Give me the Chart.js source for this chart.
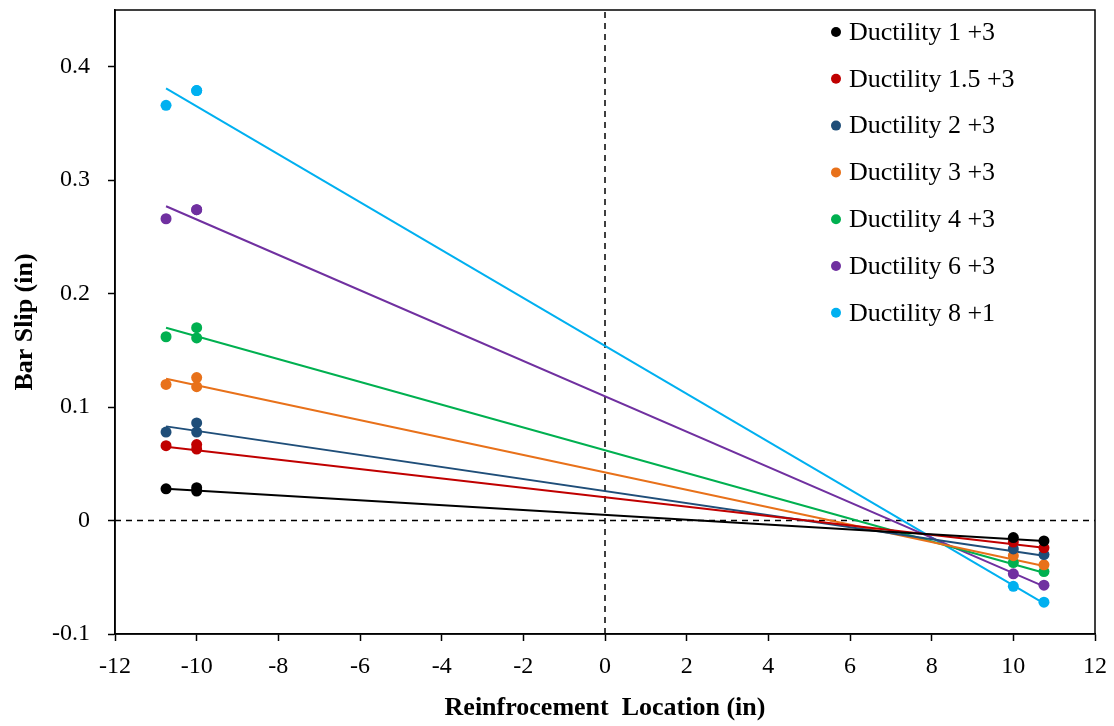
<!DOCTYPE html>
<html>
<head>
<meta charset="utf-8">
<script src="https://cdn.jsdelivr.net/npm/chart.js@4.4.1/dist/chart.umd.min.js"></script>
<style>
  html, body { margin: 0; padding: 0; background: #fff; }
  #wrap { width: 1114px; height: 726px; }
</style>
</head>
<body>
<div id="wrap"><canvas id="slip"></canvas></div>
<script>
const seriesNames = [
  'Ductility 1 +3',
  'Ductility 1.5 +3',
  'Ductility 2 +3',
  'Ductility 3 +3',
  'Ductility 4 +3',
  'Ductility 6 +3',
  'Ductility 8 +1',
]
const seriesColors = ['#000000', '#C00000', '#1F4E79', '#E8711A', '#00B050', '#7030A0', '#00B0F0']

// measured locations (in)
const gaugeX = [-10.75, -10, -10, 10, 10.75]

// measured slip (in), one list per series, aligned with gaugeX
const slip1 = [0.028, 0.029, 0.026, -0.015, -0.018]
const slip15 = [0.066, 0.067, 0.063, -0.019, -0.024]
const slip2 = [0.078, 0.086, 0.078, -0.025, -0.030]
const slip3 = [0.120, 0.126, 0.118, -0.031, -0.039]
const slip4 = [0.162, 0.170, 0.161, -0.037, -0.045]
const slip6 = [0.266, 0.274, 0.274, -0.047, -0.057]
const slip8 = [0.366, 0.379, 0.379, -0.058, -0.072]
const slipSeries = [slip1, slip15, slip2, slip3, slip4, slip6, slip8]

// linear trend lines, at x = trendX
const trendX = [-10.75, 10.75]
const trend1 = [0.028, -0.018]
const trend15 = [0.065, -0.024]
const trend2 = [0.083, -0.031]
const trend3 = [0.125, -0.040]
const trend4 = [0.170, -0.046]
const trend6 = [0.277, -0.058]
const trend8 = [0.381, -0.073]
const trendSeries = [trend1, trend15, trend2, trend3, trend4, trend6, trend8]

const xTicks = [-12, -10, -8, -6, -4, -2, 0, 2, 4, 6, 8, 10, 12]
const yTicks = [-0.1, 0, 0.1, 0.2, 0.3, 0.4]
const xRange = [-12, 12]
const yRange = [-0.1, 0.45]

const serif = "'Liberation Serif', 'Times New Roman', serif"

const pointSets = seriesNames.map((name, i) => ({
  label: name,
  data: gaugeX.map((x, j) => ({ x, y: slipSeries[i][j] })),
  backgroundColor: seriesColors[i],
  borderColor: seriesColors[i],
  pointRadius: 5.5,
  pointBorderWidth: 0,
  showLine: false,
  order: 0,
}))

const trendSets = seriesNames.map((name, i) => ({
  label: name + ' trend',
  data: trendX.map((x, j) => ({ x, y: trendSeries[i][j] })),
  borderColor: seriesColors[i],
  borderWidth: 2,
  pointRadius: 0,
  showLine: true,
  order: 1,
}))

const refSets = [
  { data: [{ x: 0, y: yRange[0] }, { x: 0, y: yRange[1] }] },
  { data: [{ x: xRange[0], y: 0 }, { x: xRange[1], y: 0 }] },
].map((d) => ({
  ...d,
  label: 'ref',
  borderColor: '#000000',
  borderWidth: 1.5,
  borderDash: [6, 5],
  pointRadius: 0,
  showLine: true,
  order: 2,
}))

const frameAndLegend = {
  id: 'frameAndLegend',
  afterDatasetsDraw(chart) {
    const { ctx, chartArea } = chart
    ctx.save()
    ctx.strokeStyle = '#000'
    ctx.lineWidth = 1.5
    ctx.strokeRect(chartArea.left, chartArea.top, chartArea.right - chartArea.left, chartArea.bottom - chartArea.top)

    const lx = chartArea.right - 259
    const ly = chartArea.top + 22
    ctx.font = `26px ${serif}`
    ctx.textBaseline = 'middle'
    ctx.textAlign = 'left'
    seriesNames.forEach((name, i) => {
      const y = ly + i * 46.8
      ctx.fillStyle = '#fff'
      ctx.fillRect(lx - 8, y - 16, 252, 32)
      ctx.beginPath()
      ctx.arc(lx, y, 5, 0, Math.PI * 2)
      ctx.fillStyle = seriesColors[i]
      ctx.fill()
      ctx.fillStyle = '#000'
      ctx.fillText(name, lx + 13, y + 1)
    })
    ctx.restore()
  },
}

new Chart(document.getElementById('slip'), {
  type: 'scatter',
  data: { datasets: [...pointSets, ...trendSets, ...refSets] },
  options: {
    responsive: true,
    maintainAspectRatio: false,
    animation: false,
    layout: { padding: { top: 10, right: 19, left: 0, bottom: 0 } },
    plugins: {
      legend: { display: false },
      tooltip: { enabled: false },
    },
    scales: {
      x: {
        type: 'linear',
        min: xRange[0],
        max: xRange[1],
        afterBuildTicks: (scale) => { scale.ticks = xTicks.map((value) => ({ value })) },
        afterFit: (scale) => {
          scale.height = 92
          scale.paddingLeft = 0
          scale.paddingRight = 0
        },
        grid: { drawOnChartArea: false, drawTicks: true, tickLength: 7, tickColor: '#000', tickWidth: 1.5 },
        border: { display: true, color: '#000', width: 1.5 },
        ticks: { color: '#000', padding: 11, font: { family: serif, size: 24 } },
        title: {
          display: true,
          text: 'Reinfrocement  Location (in)',
          color: '#000',
          padding: { top: 0, bottom: 2 },
          font: { family: serif, size: 26, weight: 'bold' },
        },
      },
      y: {
        type: 'linear',
        min: yRange[0],
        max: yRange[1],
        afterBuildTicks: (scale) => { scale.ticks = yTicks.map((value) => ({ value })) },
        afterFit: (scale) => {
          scale.width = 115
          scale.paddingTop = 0
          scale.paddingBottom = 0
        },
        grid: { drawOnChartArea: false, drawTicks: true, tickLength: 7, tickColor: '#000', tickWidth: 1.5 },
        border: { display: true, color: '#000', width: 1.5 },
        ticks: {
          color: '#000',
          padding: 18,
          font: { family: serif, size: 24 },
          callback: (v) => String(Math.round(v * 10) / 10),
        },
        title: {
          display: true,
          text: 'Bar Slip (in)',
          color: '#000',
          padding: { top: 10, bottom: 0 },
          font: { family: serif, size: 26, weight: 'bold' },
        },
      },
    },
  },
  plugins: [frameAndLegend],
})
</script>
</body>
</html>
